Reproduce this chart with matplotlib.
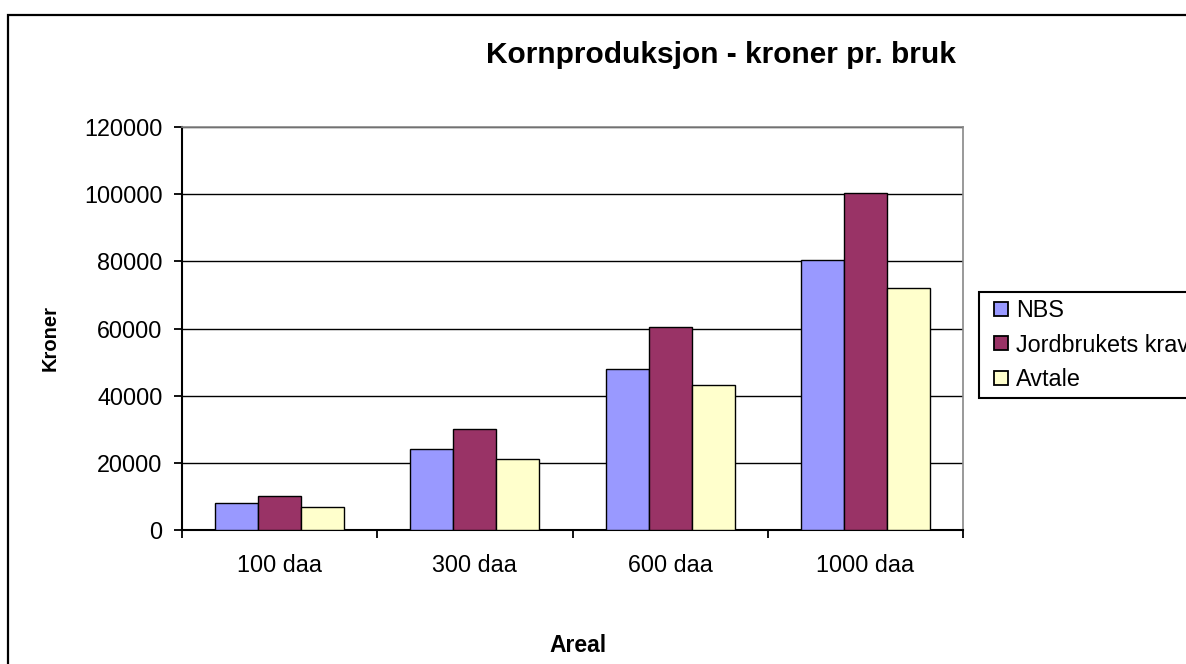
import numpy as np
import matplotlib
matplotlib.use("Agg")
import matplotlib.pyplot as plt
from matplotlib.patches import Rectangle
from matplotlib.lines import Line2D

plt.rcParams['font.family'] = ['Liberation Sans', 'DejaVu Sans']

categories = ["100 daa", "300 daa", "600 daa", "1000 daa"]
nbs = [8100, 24100, 48000, 80400]
jordbruk = [10200, 30200, 60500, 100400]
avtale = [6900, 21100, 43100, 72000]
series_names = ["NBS", "Jordbrukets krav", "Avtale"]
colors = ["#9999FF", "#993366", "#FFFFCC"]
yticks = [0, 20000, 40000, 60000, 80000, 100000, 120000]

W, H = 1186, 664
fig = plt.figure(figsize=(W / 100, H / 100), dpi=100)

# outer chart frame (runs off the right and bottom edges)
fig.patches.append(Rectangle((8 / W, -0.1), 1.2, 1 - 15 / H + 0.1,
                             transform=fig.transFigure, fill=False,
                             edgecolor="black", linewidth=1.6, zorder=0))

ax = fig.add_axes([182 / W, 1 - 530 / H, (963 - 182) / W, (530 - 127) / H])

x = np.arange(len(categories)) + 0.5
bw = 0.22
for k, (vals, name, c) in enumerate(zip([nbs, jordbruk, avtale], series_names, colors)):
    ax.bar(x + (k - 1) * bw, vals, bw, color=c, edgecolor="black",
           linewidth=1.0, label=name, zorder=3)

ax.set_xlim(0, len(categories))
ax.set_ylim(0, 120000)
ax.set_yticks(yticks)
ax.set_yticklabels([str(v) for v in yticks], fontsize=16.8)
ax.yaxis.grid(True, color="black", linewidth=1.0, zorder=1)
ax.set_axisbelow(True)

ax.set_xticks(np.arange(len(categories) + 1))
ax.set_xticklabels([])
ax.set_xticks(x, minor=True)
ax.set_xticklabels(categories, minor=True, fontsize=16.8)
ax.tick_params(axis="x", which="minor", length=0, pad=17)
ax.tick_params(axis="x", which="major", direction="out", length=6, width=1.3)
ax.tick_params(axis="y", direction="out", length=6, width=1.3, pad=8)

ax.spines["left"].set_linewidth(1.5)
ax.spines["bottom"].set_linewidth(1.5)
for s in ["top", "right"]:
    ax.spines[s].set_color("#888888")
    ax.spines[s].set_linewidth(1.2)

fig.text(721 / W, 1 - 55 / H, "Kornproduksjon - kroner pr. bruk",
         ha="center", va="center", fontsize=21.5, fontweight="bold")
fig.text(50 / W, 1 - 338 / H, "Kroner", rotation=90, ha="center",
         va="center", fontsize=14.5, fontweight="bold")
fig.text(578 / W, 1 - 646 / H, "Areal", ha="center", va="center",
         fontsize=16.5, fontweight="bold")

handles = [Line2D([], [], linestyle="none", marker="s", markersize=10,
                  markerfacecolor=c, markeredgecolor="black",
                  markeredgewidth=1.3) for c in colors]
leg = fig.legend(handles, series_names, loc="upper left",
                 bbox_to_anchor=(979 / W, 1 - 292 / H),
                 fontsize=16.8, frameon=True, fancybox=False, framealpha=1,
                 edgecolor="black", handlelength=1.3, handletextpad=0.0,
                 borderpad=0.3, labelspacing=0.5, borderaxespad=0)
leg.get_frame().set_linewidth(1.5)

fig.savefig("out.png", dpi=100)
